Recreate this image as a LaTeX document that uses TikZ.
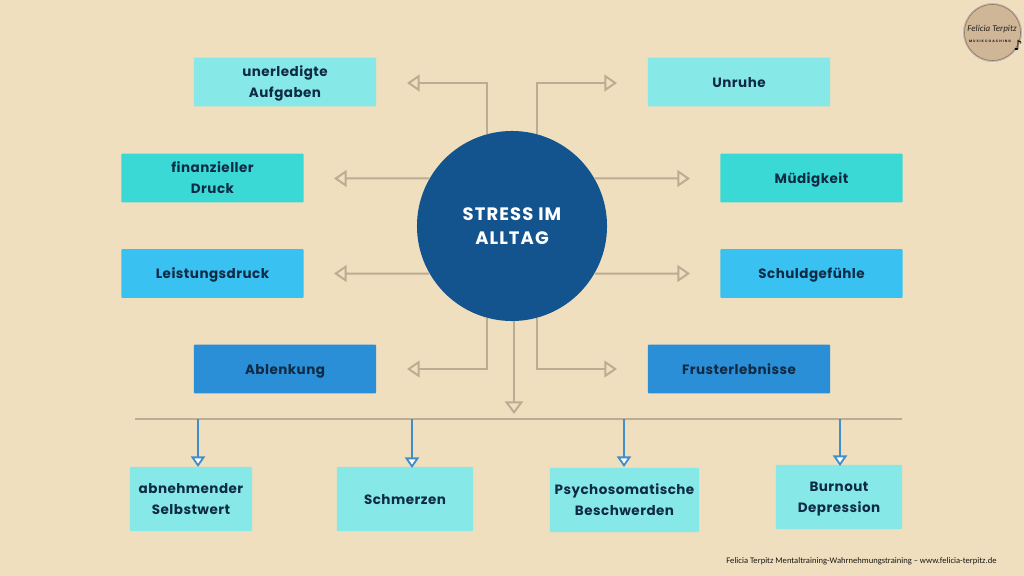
\documentclass[tikz,border=0pt]{standalone}
\usepackage{fontspec}
\setmainfont{Poppins}[LetterSpace=3.5]
\newfontfamily\hubfont{Poppins}[LetterSpace=6]
\newfontfamily\logofont{Poppins}[LetterSpace=30]
\newfontfamily\footfont{Carlito}
\newfontfamily\notefont{DejaVu Sans}
\usetikzlibrary{arrows.meta}
\definecolor{paper}{HTML}{EFDFBE}
\definecolor{palecyan}{HTML}{86E9E8}
\definecolor{teal}{HTML}{3AD9D6}
\definecolor{sky}{HTML}{38C1F1}
\definecolor{midblue}{HTML}{2B8FD8}
\definecolor{hubblue}{HTML}{14548E}
\definecolor{inkblue}{HTML}{0E2A44}
\definecolor{stone}{HTML}{BBAD93}
\definecolor{linkblue}{HTML}{3F8DCB}
\definecolor{logotan}{HTML}{CFB697}
\newcommand{\lineup}{\rule[-3pt]{0pt}{13.6pt}}
\newcommand{\topline}{\rule{0pt}{9.9pt}}
\tikzset{textbox/.style={inner sep=0pt, align=center, text=inkblue, font=\fontsize{9.6}{15}\selectfont\bfseries,
    rounded corners=0.5pt, execute at begin node=\lineup, execute at end node=\lineup}}
\tikzset{longbox/.style={textbox, minimum width=4.55cm, minimum height=1.22cm}}
\tikzset{flow/.style={draw=stone, line width=1.4pt, -{Triangle[open, length=9pt, width=12pt, line width=1.4pt]}}}
\tikzset{bigflow/.style={draw=stone, line width=1.4pt, -{Triangle[open, length=9pt, width=13pt, line width=1.4pt]}}}
\tikzset{drop/.style={draw=linkblue, line width=1.4pt, -{Triangle[length=7.5pt, width=10pt, fill=white, line width=1.3pt]}}}

\begin{document}
\begin{tikzpicture}[x=0.025cm, y=-0.025cm]
    \fill[paper] (0, 0) rectangle (1024, 576);

    \node[longbox, fill=palecyan](UNERLEDIGT) at (285, 82){\topline unerledigte\\Aufgaben};
    \node[longbox, fill=palecyan](UNRUHE) at (739, 82){Unruhe};
    \node[longbox, fill=teal](DRUCK) at (212.5, 178){\topline finanzieller\\Druck};
    \node[longbox, fill=teal](MUEDE) at (811.5, 178){Müdigkeit};
    \node[longbox, fill=sky](LEISTUNG) at (212.5, 273.5){Leistungsdruck};
    \node[longbox, fill=sky](SCHULD) at (811.5, 273.5){Schuldgefühle};
    \node[longbox, fill=midblue](ABLENKUNG) at (285, 369){Ablenkung};
    \node[longbox, fill=midblue](FRUST) at (739, 369){Frusterlebnisse};

    \node[textbox, fill=palecyan, minimum width=3.05cm, minimum height=1.6cm](SELBST) at (191, 499){\topline abnehmender\\Selbstwert};
    \node[textbox, fill=palecyan, minimum width=3.4cm, minimum height=1.6cm](SCHMERZ) at (405, 499){Schmerzen};
    \node[textbox, fill=palecyan, minimum width=3.73cm, minimum height=1.6cm](PSYCHO) at (624.5, 500){\topline Psychosomatische\\Beschwerden};
    \node[textbox, fill=palecyan, minimum width=3.15cm, minimum height=1.6cm](BURNOUT) at (839, 497){\topline Burnout\\Depression};

    \node[circle, fill=hubblue, minimum size=4.75cm, inner sep=0pt, align=center, text=white,
        font=\fontsize{12.8}{17}\hubfont\bfseries](HUB) at (512, 226){STRESS IM\\ALLTAG};

    \coordinate (A) at (407, 83);
    \coordinate (B) at (617, 83);
    \coordinate (C) at (334, 178.5);
    \coordinate (D) at (690, 178.5);
    \coordinate (E) at (334, 273.5);
    \coordinate (F) at (690, 273.5);
    \coordinate (G) at (407, 369);
    \coordinate (H) at (617, 369);
    \coordinate (BAR1) at (135, 419);
    \coordinate (BAR2) at (902, 419);
    \coordinate (DOWN) at (514, 414);

    \draw[flow] (HUB.105) |- (A);
    \draw[flow] (HUB.75) |- (B);
    \draw[flow] (HUB.150) -- (C);
    \draw[flow] (HUB.30) -- (D);
    \draw[flow] (HUB.210) -- (E);
    \draw[flow] (HUB.330) -- (F);
    \draw[flow] (HUB.255) |- (G);
    \draw[flow] (HUB.285) |- (H);
    \draw[bigflow] (DOWN |- HUB.south) -- (DOWN);

    \draw[draw=stone, line width=1.4pt] (BAR1) -- (BAR2);

    \draw[drop] (198, 419) -- (198, 467);
    \draw[drop] (412, 419) -- (412, 468);
    \draw[drop] (624, 419) -- (624, 467);
    \draw[drop] (840, 419) -- (840, 466);

    % logo
    \node[circle, fill=logotan, draw=white!60!logotan, line width=0.6pt, minimum size=1.5cm, inner sep=0pt](LOGO) at (992.5, 32.5){};
    \node[circle, draw=black!35!logotan, line width=0.4pt, minimum size=1.4cm, inner sep=0pt](RING) at (992.5, 32.5){};
    \node[font=\fontsize{6.4}{6}\footfont\itshape, text=black!80!logotan, inner sep=0pt](LOGONAME) at (992, 29.5){Felicia Terpitz};
    \node[font=\fontsize{2.4}{3}\logofont\bfseries, text=black!80!logotan, inner sep=0pt](LOGOSUB) at (990, 41){MUSIKCOACHING};
    \node[font=\fontsize{10}{10}\notefont, text=black, inner sep=0pt](LOGONOTE) at (1018, 45){♪};

    \node[font=\fontsize{6.1}{7}\footfont, text=black!90!paper, inner sep=0pt](FOOT) at (861.5, 561){Felicia Terpitz Mentaltraining-Wahrnehmungstraining – www.felicia-terpitz.de};
\end{tikzpicture}
\end{document}
